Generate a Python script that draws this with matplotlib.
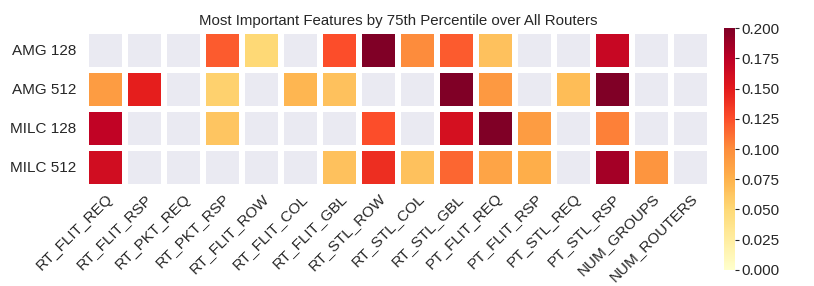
import numpy as np
import matplotlib
matplotlib.use('Agg')
import matplotlib.pyplot as plt
import seaborn as sns

# rows / columns of the heatmap
routers = ['AMG 128', 'AMG 512', 'MILC 128', 'MILC 512']
features = ['RT_FLIT_REQ', 'RT_FLIT_RSP', 'RT_PKT_REQ', 'RT_PKT_RSP',
            'RT_FLIT_ROW', 'RT_FLIT_COL', 'RT_FLIT_GBL', 'RT_STL_ROW',
            'RT_STL_COL', 'RT_STL_GBL', 'PT_FLIT_REQ', 'PT_FLIT_RSP',
            'PT_STL_REQ', 'PT_STL_RSP', 'NUM_GROUPS', 'NUM_ROUTERS']

nan = np.nan
amg_128 = [nan, nan, nan, 0.120, 0.050, nan, 0.125, 0.200,
           0.100, 0.120, 0.065, nan, nan, 0.168, nan, nan]
amg_512 = [0.090, 0.148, nan, 0.055, nan, 0.072, 0.065, nan,
           nan, 0.200, 0.092, nan, 0.068, 0.200, nan, nan]
milc_128 = [0.172, nan, nan, 0.063, nan, nan, nan, 0.125,
            nan, 0.160, 0.200, 0.090, nan, 0.105, nan, nan]
milc_512 = [0.162, nan, nan, nan, nan, nan, 0.065, 0.140,
            0.065, 0.115, 0.085, 0.078, nan, 0.185, 0.095, nan]

cbar_ticks = [0.0, 0.025, 0.05, 0.075, 0.1, 0.125, 0.15, 0.175, 0.2]

sns.set_style('darkgrid')
plt.rcParams['font.family'] = ['Liberation Sans', 'DejaVu Sans']

datos = np.array([amg_128, amg_512, milc_128, milc_512])

fig = plt.figure(figsize=(8.14, 2.86), dpi=100)
ax = fig.add_axes([0.1057, 0.346, 0.7666, 0.5455])
cax = fig.add_axes([0.8895, 0.056, 0.0140, 0.846])

sns.heatmap(datos, ax=ax, cbar_ax=cax, cmap='YlOrRd', vmin=0, vmax=0.2,
            linewidths=3, linecolor='white', mask=np.isnan(datos),
            xticklabels=features, yticklabels=routers)
ax.grid(False)
ax.set_facecolor('#EAEAF2')
ax.set_title('Most Important Features by 75th Percentile over All Routers',
             fontsize=10.8, pad=4)
ax.set_xticklabels(features, rotation=45, ha='right', rotation_mode='anchor',
                   fontsize=11)
ax.set_yticklabels(routers, rotation=0, fontsize=11)
ax.tick_params(axis='x', length=0, pad=3)
ax.tick_params(axis='y', length=0, pad=7)

cax.set_yticks(cbar_ticks)
cax.set_yticklabels([f'{t:.3f}' for t in cbar_ticks])
cax.tick_params(labelsize=11, length=3, width=0.8, pad=1)
for s in cax.spines.values():
    s.set_visible(False)

fig.savefig('out.png', dpi=100)
